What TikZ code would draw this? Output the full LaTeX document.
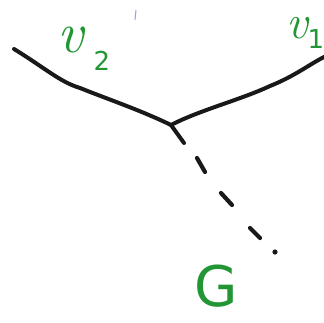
\documentclass[tikz,border=0pt]{standalone}
\usepackage{fontspec}
\newfontfamily\hand{DejaVu Sans}
\definecolor{pen}{RGB}{34,150,52}
\begin{document}
\begin{tikzpicture}[x=1pt,y=-1pt,
  edge/.style={line width=4pt,line cap=round,line join=round,black!90},
  lbl/.style={text=pen,inner sep=0pt},
  dashpart/.style={line width=4.2pt,line cap=round,black!90}]
\useasboundingbox (0,0) rectangle (324,322);
% coordinates
\coordinate (c) at (171,125);
\coordinate (l) at (14,49);
\coordinate (r) at (324,57);
\coordinate (g) at (275,252);
% edges
\draw[edge] (l) .. controls (45,68) and (60,82) .. (80,88)
  .. controls (110,100) and (140,110) .. (c);
\draw[edge] (c) .. controls (200,110) and (240,100) .. (270,86)
  .. controls (295,76) and (310,64) .. (r);
\draw[edge] (c) -- (184,143);
\draw[dashpart] (197,158) -- (205,172);
\draw[dashpart] (221,193) -- (232,205);
\draw[dashpart] (250,228) -- (260,238);
\fill[black!90] (g) circle (2.6pt);
% labels
\node[lbl,font=\fontsize{58}{58}\selectfont\itshape,anchor=base] (v2) at (71,52) {v};
\node[lbl,font=\fontsize{26}{26}\selectfont\hand] (two) at (102,61) {2};
\node[lbl,font=\fontsize{48}{48}\selectfont\itshape,anchor=base] (v1) at (297,38) {v};
\node[lbl,font=\fontsize{26}{26}\selectfont\hand] (one) at (316,39) {1};
\node[lbl,font=\hand\fontsize{56}{56}\selectfont,anchor=base] (G) at (216,306) {G};
\draw[blue!40,line width=1pt] (136,10) -- (135,20);
\end{tikzpicture}
\end{document}
